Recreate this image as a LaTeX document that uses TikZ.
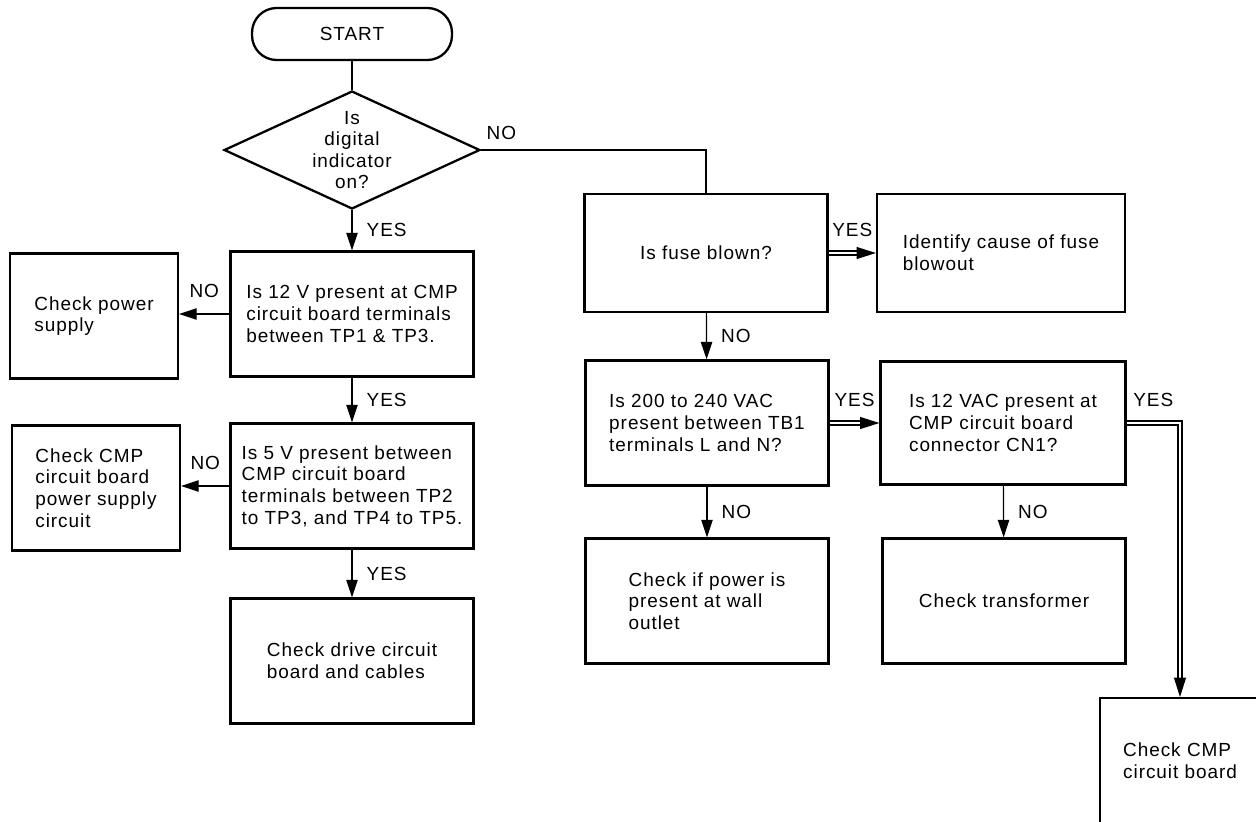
\documentclass[tikz,border=0pt]{standalone}
\usepackage{fontspec}
\setmainfont{Liberation Sans}[LetterSpace=5]
\usetikzlibrary{arrows.meta,shapes.geometric,positioning,decorations.markings}

\tikzset{
  block/.style={draw, line width=1.3pt, minimum width=4.86cm, minimum height=2.5cm, align=left, inner sep=0pt},
  sideblock/.style={block, minimum width=3.36cm},
  decision/.style={draw, line width=1.3pt, diamond, aspect=2.17, inner sep=-6pt, minimum width=5.12cm, minimum height=2.36cm, align=center},
  terminal/.style={draw, line width=1.3pt, rounded corners=14pt, minimum width=4cm, minimum height=1.04cm},
  flow/.style={line width=0.7pt, -{Triangle[length=10pt,width=6.5pt]}},
  dbl/.style={line width=0.7pt, double, double distance=1.6pt, shorten >=9pt,
    postaction={decorate, decoration={markings, mark=at position 1 with {\fill (0pt,0pt) -- (-11pt,3.5pt) -- (-11pt,-3.5pt) -- cycle;}}}},
  lbl/.style={inner sep=0pt}
}

\begin{document}
\begin{tikzpicture}[x=0.02cm, y=-0.02cm, font=\fontsize{10.8}{12.3}\selectfont]
\useasboundingbox (0,0) rectangle (1256,821);
\clip (0,0) rectangle (1256,821);

\node [terminal] (start) at (352,34) {START};
\node [decision] (ind) at (352,150) {Is\\digital\\indicator\\on?};

\node [block] (v12) at (352,314) {Is 12 V present at CMP\\circuit board terminals\\between TP1 \& TP3.};
\node [sideblock] (psu) at (94,316) {Check power\\supply};
\node [block] (v5) at (352,486) {Is 5 V present between\\CMP circuit board\\terminals between TP2\\to TP3, and TP4 to TP5.};
\node [sideblock] (cmpsu) at (96,488) {Check CMP\\circuit board\\power supply\\circuit};
\node [block] (drive) at (352,661) {Check drive circuit\\board and cables};

\node [block, minimum height=2.36cm] (fuse) at (706,253) {Is fuse blown?};
\node [block, minimum width=4.96cm, minimum height=2.36cm] (cause) at (1001,253) {Identify cause of fuse\\blowout};
\node [block] (ac) at (707,423) {Is 200 to 240 VAC\\present between TB1\\terminals L and N?};
\node [block, minimum width=4.9cm, minimum height=2.46cm] (vac) at (1003,423) {Is 12 VAC present at\\CMP circuit board\\connector CN1?};
\node [block] (wall) at (707,601) {Check if power is\\present at wall\\outlet};
\node [block] (trans) at (1004,601) {Check transformer};
\node [block, anchor=north west, minimum width=4.9cm, text width=3.98cm] (board) at (1099,697) {Check CMP\\circuit board};

\draw [line width=0.7pt] (start) -- (ind);
\draw [line width=0.7pt] (ind.east) -| node [lbl, pos=0, above right=0.2cm and 0.1cm] (n0) {NO} (fuse.north);
\draw [flow] (ind) -- node [lbl, right=8pt] (y1) {YES} (v12);
\draw [flow] (v12.west) -- node [lbl, above=9pt] (n1) {NO} (v12.west -| psu.east);
\draw [flow] (v12) -- node [lbl, right=8pt] (y2) {YES} (v5);
\draw [flow] (v5.west) -- node [lbl, above=9pt] (n2) {NO} (v5.west -| cmpsu.east);
\draw [flow] (v5) -- node [lbl, right=8pt] (y3) {YES} (drive);

\draw [dbl] (fuse) -- node [lbl, above=9pt] (y4) {YES} (cause);
\draw [flow] (fuse) -- node [lbl, right=8pt] (n3) {NO} (ac);
\draw [dbl] (ac) -- node [lbl, above=9pt] (y5) {YES} (vac);
\draw [flow] (ac) -- node [lbl, right=8pt] (n4) {NO} (wall);
\draw [flow] (vac) -- node [lbl, right=8pt] (n5) {NO} (trans);
\draw [dbl] (vac.east) -| node [lbl, pos=0.25, above=9pt] (y6) {YES} ([xshift=1.62cm]board.north west);

\end{tikzpicture}
\end{document}
